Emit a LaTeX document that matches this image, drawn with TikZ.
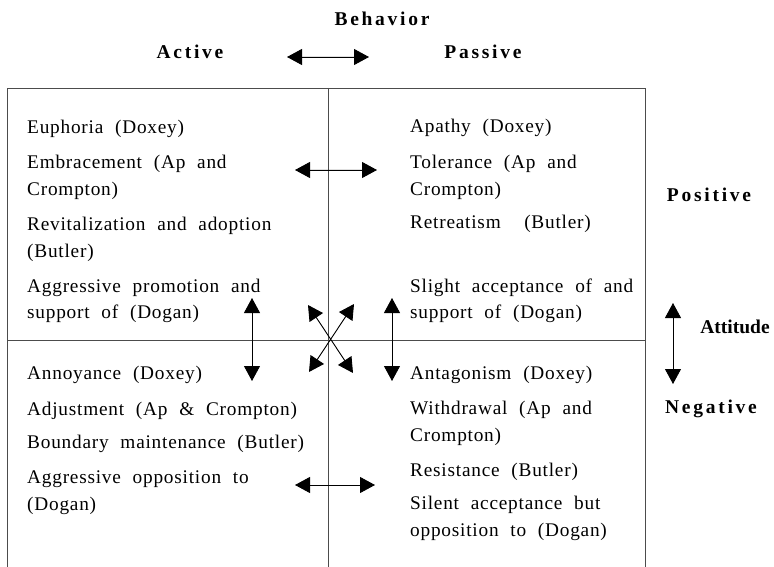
\documentclass[tikz,border=0pt]{standalone}
\usepackage{fontspec}
\setmainfont{Liberation Serif}[LetterSpace=4,WordSpace=2.1]
\newfontfamily\hdrfont{Liberation Serif}[LetterSpace=14]
\newfontfamily\attfont{Liberation Serif}
\usetikzlibrary{arrows.meta}
\begin{document}
\begin{tikzpicture}[x=1pt,y=-1pt,
  txt/.style={anchor=base west, inner sep=0pt, font=\fontsize{19.3}{27}\selectfont},
  hdr/.style={anchor=base, inner sep=0pt, font=\hdrfont\fontsize{19.5}{24}\selectfont\bfseries},
  frame/.style={draw=black!70, line width=0.9pt},
  dbl/.style={{Triangle[length=15pt,width=16pt]}-{Triangle[length=15pt,width=16pt]}, line width=0.9pt, draw=black, fill=black}]
\useasboundingbox (0,0) rectangle (774,567);
% frame
\draw[frame] (7,567) -- (7,88) -- (645,88) -- (645,567);
\draw[frame] (328,88) -- (328,567);
\draw[frame] (7,340) -- (645,340);
% headers
\node[hdr] (behavior) at (382,26) {Behavior};
\node[hdr] (active) at (190,59) {Active};
\node[hdr] (passive) at (483,59) {Passive};
\node[hdr] (positive) at (709,201) {Positive};
\node[hdr] (negative) at (711,413) {Negative};
\node[anchor=base, inner sep=0pt, font=\attfont\fontsize{19.5}{24}\selectfont\bfseries] (attitude) at (735,333) {Attitude};
% upper left
\node[txt] (ul1) at (27,134) {Euphoria (Doxey)};
\node[txt] (ul2) at (27,168) {Embracement (Ap and};
\node[txt] (ul3) at (27,195) {Crompton)};
\node[txt] (ul4) at (27,230) {Revitalization and adoption};
\node[txt] (ul5) at (27,257) {(Butler)};
\node[txt] (ul6) at (27,292) {Aggressive promotion and};
\node[txt] (ul7) at (27,318) {support of (Dogan)};
% upper right
\node[txt] (ur1) at (410,133) {Apathy (Doxey)};
\node[txt] (ur2) at (410,168) {Tolerance (Ap and};
\node[txt] (ur3) at (410,195) {Crompton)};
\node[txt] (ur4) at (410,228) {Retreatism\ \ (Butler)};
\node[txt] (ur5) at (410,292) {Slight acceptance of and};
\node[txt] (ur6) at (410,318) {support of (Dogan)};
% lower left
\node[txt] (ll1) at (27,379) {Annoyance (Doxey)};
\node[txt] (ll2) at (27,415) {Adjustment (Ap \& Crompton)};
\node[txt] (ll3) at (27,448) {Boundary maintenance (Butler)};
\node[txt] (ll4) at (27,483) {Aggressive opposition to};
\node[txt] (ll5) at (27,510) {(Dogan)};
% lower right
\node[txt] (lr1) at (410,379) {Antagonism (Doxey)};
\node[txt] (lr2) at (410,414) {Withdrawal (Ap and};
\node[txt] (lr3) at (410,441) {Crompton)};
\node[txt] (lr4) at (410,476) {Resistance (Butler)};
\node[txt] (lr5) at (410,509) {Silent acceptance but};
\node[txt] (lr6) at (410,536) {opposition to (Dogan)};
% arrow end points
\coordinate (bL) at (287,57); \coordinate (bR) at (369,57);
\coordinate (uL) at (295,170); \coordinate (uR) at (377,170);
\coordinate (lL) at (295,485); \coordinate (lR) at (375,485);
\coordinate (v1T) at (252,298); \coordinate (v1B) at (252,381);
\coordinate (v2T) at (392,298); \coordinate (v2B) at (392,381);
\coordinate (d1a) at (308,305); \coordinate (d1b) at (353,373);
\coordinate (d2a) at (354,304); \coordinate (d2b) at (309,372);
\coordinate (aT) at (673,303); \coordinate (aB) at (673,384);
% arrows
\draw[dbl] (bL) -- (bR);
\draw[dbl] (uL) -- (uR);
\draw[dbl] (lL) -- (lR);
\draw[dbl] (v1T) -- (v1B);
\draw[dbl] (v2T) -- (v2B);
\draw[dbl] (d1a) -- (d1b);
\draw[dbl] (d2a) -- (d2b);
\draw[dbl] (aT) -- (aB);
\end{tikzpicture}
\end{document}
